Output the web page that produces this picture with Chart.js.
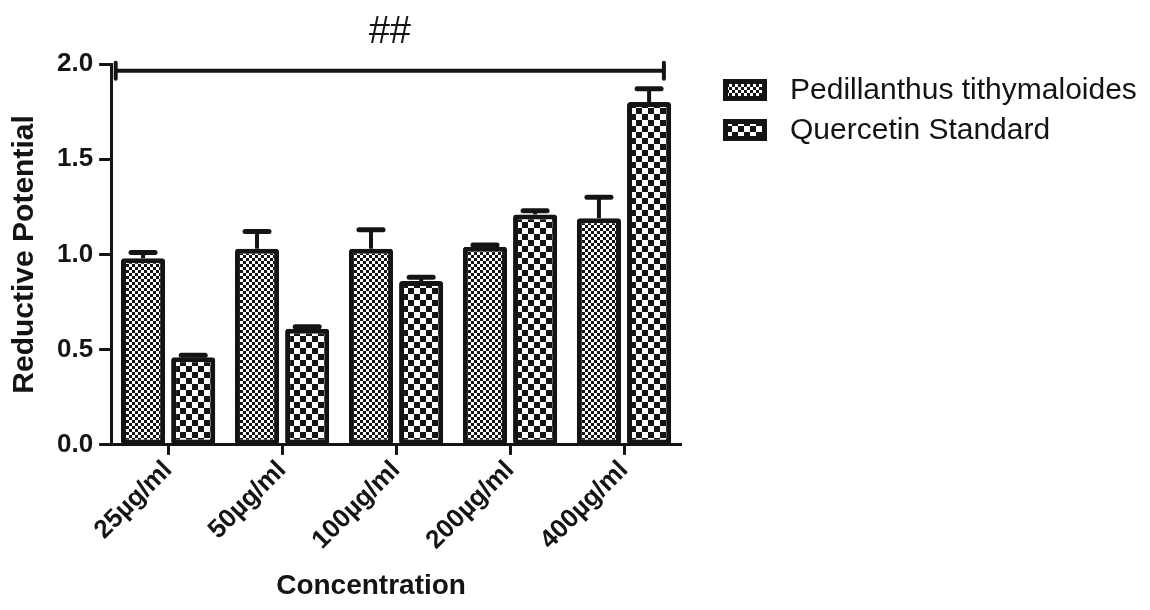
<!DOCTYPE html>
<html>
<head>
<meta charset="utf-8">
<script src="https://cdn.jsdelivr.net/npm/chart.js@4.4.1/dist/chart.umd.min.js"></script>
<style>
  html, body { margin: 0; padding: 0; background: #ffffff; }
  #wrap { width: 1150px; height: 610px; }
</style>
</head>
<body>
<div id="wrap"><canvas id="c" width="1150" height="610"></canvas></div>
<script>
// ---- data ----
const categories = ['25µg/ml', '50µg/ml', '100µg/ml', '200µg/ml', '400µg/ml'];
const seriesNames = ['Pedillanthus tithymaloides', 'Quercetin Standard'];
const pedValues = [0.98, 1.03, 1.03, 1.04, 1.19];
const pedErrors = [0.03, 0.09, 0.10, 0.01, 0.11];
const querValues = [0.46, 0.61, 0.86, 1.21, 1.80];
const querErrors = [0.01, 0.01, 0.02, 0.02, 0.07];
const yTicks = [0, 0.5, 1.0, 1.5, 2.0];
const sigLabel = ['##'];
const sigLevel = [1.965];
const xTitle = 'Concentration';
const yTitle = 'Reductive Potential';

const INK = '#141414';
const FONT = "Arial, 'Liberation Sans', Helvetica, sans-serif";

function makePattern(tile, sq) {
  const c = document.createElement('canvas');
  c.width = tile; c.height = tile;
  const g = c.getContext('2d');
  g.fillStyle = '#ffffff';
  g.fillRect(0, 0, tile, tile);
  g.fillStyle = INK;
  const h = tile / 2;
  g.fillRect(0, 0, sq, sq);
  g.fillRect(h, h, sq, sq);
  return g.createPattern(c, 'repeat');
}
const ctx = document.getElementById('c').getContext('2d');
const patFine = makePattern(6, 3);
const patCoarse = makePattern(12, 6);
const patterns = [patFine, patCoarse];
const errorSets = [pedErrors, querErrors];

const errorBars = {
  id: 'errorBars',
  afterDatasetsDraw(chart) {
    const g = chart.ctx;
    const ys = chart.scales.y;
    g.save();
    g.strokeStyle = INK;
    chart.data.datasets.forEach((ds, di) => {
      const meta = chart.getDatasetMeta(di);
      meta.data.forEach((bar, i) => {
        const v = ds.data[i];
        const e = errorSets[di][i];
        const yTop = ys.getPixelForValue(v);
        const yErr = ys.getPixelForValue(v + e);
        g.lineCap = 'butt';
        g.lineWidth = 4;
        g.beginPath();
        g.moveTo(bar.x, yTop);
        g.lineTo(bar.x, yErr);
        g.stroke();
        g.lineCap = 'round';
        g.lineWidth = 5;
        g.beginPath();
        g.moveTo(bar.x - 12, yErr);
        g.lineTo(bar.x + 12, yErr);
        g.stroke();
      });
    });
    g.restore();
  }
};

const bracket = {
  id: 'bracket',
  afterDraw(chart) {
    const g = chart.ctx;
    const xs = chart.scales.x, ys = chart.scales.y;
    const step = xs.getPixelForValue(1) - xs.getPixelForValue(0);
    const left = xs.getPixelForValue(0) - 0.46 * step;
    const right = xs.getPixelForValue(categories.length - 1) + 0.35 * step;
    const y = ys.getPixelForValue(sigLevel[0]);
    g.save();
    g.strokeStyle = INK;
    g.lineWidth = 4;
    g.lineCap = 'butt';
    g.beginPath();
    g.moveTo(left, y); g.lineTo(right, y);
    g.stroke();
    g.lineCap = 'round';
    g.beginPath();
    g.moveTo(left, y - 8); g.lineTo(left, y + 8);
    g.moveTo(right, y - 8); g.lineTo(right, y + 8);
    g.stroke();
    g.fillStyle = INK;
    g.font = '38px ' + FONT;
    g.textAlign = 'center';
    g.textBaseline = 'middle';
    g.fillText(sigLabel[0], (left + right) / 2, y - 38);
    g.restore();
  }
};

const xTitlePlugin = {
  id: 'xTitle',
  afterDraw(chart) {
    const g = chart.ctx;
    const ca = chart.chartArea;
    const xs = chart.scales.x;
    g.save();
    g.fillStyle = INK;
    g.font = 'bold 28px ' + FONT;
    g.textAlign = 'center';
    g.textBaseline = 'middle';
    g.fillText(xTitle, (ca.left + ca.right) / 2 - 25, xs.bottom + 30);
    g.restore();
  }
};

const legendPlugin = {
  id: 'customLegend',
  afterDraw(chart) {
    const g = chart.ctx;
    const ca = chart.chartArea;
    const x0 = ca.right + 42;
    g.save();
    seriesNames.forEach((name, i) => {
      const cy = ca.top + 26 + i * 40;
      g.fillStyle = patterns[i];
      g.fillRect(x0, cy - 11, 44, 22);
      g.strokeStyle = INK;
      g.lineWidth = 5;
      g.strokeRect(x0 + 2.5, cy - 11 + 2.5, 39, 17);
      g.fillStyle = INK;
      g.font = '30px ' + FONT;
      g.textAlign = 'left';
      g.textBaseline = 'middle';
      g.fillText(name, x0 + 67, cy + 1);
    });
    g.restore();
  }
};

new Chart(ctx, {
  type: 'bar',
  data: {
    labels: categories,
    datasets: [
      { label: seriesNames[0], data: pedValues, backgroundColor: patFine, borderColor: INK,
        borderWidth: 5, borderSkipped: false, borderRadius: 3,
        categoryPercentage: 0.88, barPercentage: 0.88 },
      { label: seriesNames[1], data: querValues, backgroundColor: patCoarse, borderColor: INK,
        borderWidth: 5, borderSkipped: false, borderRadius: 3,
        categoryPercentage: 0.88, barPercentage: 0.88 }
    ]
  },
  options: {
    responsive: false,
    animation: false,
    layout: { padding: { left: 4, right: 469, top: 64, bottom: 54 } },
    plugins: { legend: { display: false }, tooltip: { enabled: false } },
    scales: {
      x: {
        grid: { display: true, drawOnChartArea: false, offset: false, color: INK, tickLength: 10, tickWidth: 3 },
        border: { display: true, color: INK, width: 3 },
        ticks: { color: INK, font: { family: FONT, size: 26, weight: 'bold' }, minRotation: 45, maxRotation: 45, padding: 0 },
        title: { display: false }
      },
      y: {
        min: 0, max: 2.0,
        afterBuildTicks(axis) { axis.ticks = yTicks.map(v => ({ value: v })); },
        grid: { display: true, drawOnChartArea: false, color: INK, tickLength: 12, tickWidth: 3 },
        border: { display: true, color: INK, width: 3 },
        ticks: { color: INK, font: { family: FONT, size: 26, weight: 'bold' }, padding: 6,
                 callback: (v) => Number(v).toFixed(1) },
        title: { display: true, text: yTitle, color: INK, font: { family: FONT, size: 30, weight: 'bold' }, padding: { top: 3, bottom: 8 } }
      }
    }
  },
  plugins: [errorBars, bracket, xTitlePlugin, legendPlugin]
});
</script>
</body>
</html>
